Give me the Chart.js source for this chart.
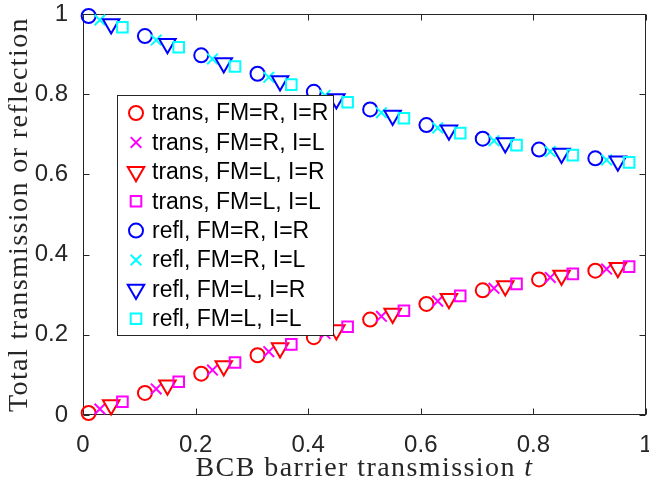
<!DOCTYPE html>
<html>
<head>
<meta charset="utf-8">
<script src="https://cdn.jsdelivr.net/npm/chart.js@4"></script>
<style>
  html, body { margin: 0; padding: 0; background: #fff; }
  #wrap { width: 649px; height: 487px; }
</style>
</head>
<body>
<div id="wrap"><canvas id="chart" width="649" height="487"></canvas></div>
<script>
// x positions of the four interleaved marker groups
const xA = [0.01, 0.11, 0.21, 0.31, 0.41, 0.51, 0.61, 0.71, 0.81, 0.91];
const xB = [0.03, 0.13, 0.23, 0.33, 0.43, 0.53, 0.63, 0.73, 0.83, 0.93];
const xC = [0.05, 0.15, 0.25, 0.35, 0.45, 0.55, 0.65, 0.75, 0.85, 0.95];
const xD = [0.07, 0.17, 0.27, 0.37, 0.47, 0.57, 0.67, 0.77, 0.87, 0.97];

// transmission
const transRR = [0.005, 0.055, 0.103, 0.149, 0.194, 0.238, 0.277, 0.311, 0.338, 0.360];
const transRL = [0.015, 0.065, 0.112, 0.158, 0.203, 0.246, 0.284, 0.316, 0.343, 0.364];
const transLR = [0.025, 0.074, 0.122, 0.167, 0.212, 0.253, 0.290, 0.322, 0.348, 0.367];
const transLL = [0.033, 0.083, 0.131, 0.176, 0.220, 0.260, 0.297, 0.327, 0.352, 0.370];

// reflection
const reflRR = [0.995, 0.945, 0.897, 0.851, 0.806, 0.762, 0.723, 0.689, 0.662, 0.640];
const reflRL = [0.985, 0.935, 0.888, 0.842, 0.797, 0.754, 0.716, 0.684, 0.657, 0.636];
const reflLR = [0.975, 0.926, 0.878, 0.833, 0.788, 0.747, 0.710, 0.678, 0.652, 0.633];
const reflLL = [0.967, 0.917, 0.869, 0.824, 0.780, 0.740, 0.703, 0.673, 0.648, 0.630];

const seriesLabels = [
    'trans, FM=R, I=R', 'trans, FM=R, I=L', 'trans, FM=L, I=R', 'trans, FM=L, I=L',
    'refl, FM=R, I=R', 'refl, FM=R, I=L', 'refl, FM=L, I=R', 'refl, FM=L, I=L'
];

const xTicks = [0, 0.2, 0.4, 0.6, 0.8, 1];
const xTickLabels = ['0', '0.2', '0.4', '0.6', '0.8', '1'];
const yTicks = [0, 0.2, 0.4, 0.6, 0.8, 1];
const yTickLabels = ['0', '0.2', '0.4', '0.6', '0.8', '1'];

const axisColor = '#262626';
const serif = '"Liberation Serif", "Times New Roman", serif';

// marker looks (MATLAB o, x, v, s)
const marker = {
    o: { pointStyle: 'circle', pointRadius: 7, pointRotation: 0 },
    x: { pointStyle: 'crossRot', pointRadius: 7.5, pointRotation: 0 },
    v: { pointStyle: 'triangle', pointRadius: 9.5, pointRotation: 180 },
    s: { pointStyle: 'rect', pointRadius: 7.5, pointRotation: 0 }
};

const pts = (xs, ys) => xs.map((x, i) => ({ x: x, y: ys[i] }));

const raw = [
    [xA, transRR, '#ff0000', 'o'],
    [xB, transRL, '#ff00ff', 'x'],
    [xC, transLR, '#ff0000', 'v'],
    [xD, transLL, '#ff00ff', 's'],
    [xA, reflRR, '#0000ff', 'o'],
    [xB, reflRL, '#00ffff', 'x'],
    [xC, reflLR, '#0000ff', 'v'],
    [xD, reflLL, '#00ffff', 's']
];

const datasets = raw.map((r, i) => Object.assign({
    label: seriesLabels[i],
    data: pts(r[0], r[1]),
    borderColor: r[2],
    pointBorderColor: r[2],
    backgroundColor: 'rgba(0,0,0,0)',
    pointBackgroundColor: 'rgba(0,0,0,0)',
    pointBorderWidth: 2,
    pointHoverRadius: 0,
    showLine: false,
    clip: false,
    order: raw.length - i   // later series on top, like MATLAB
}, marker[r[3]]));

// draw text stretched to a given width (the LaTeX font is wider than Times)
function spacedText(ctx, parts, cx, cy, targetW) {
    let w = 0, n = 0;
    parts.forEach(p => { ctx.font = p.font; w += ctx.measureText(p.text).width; n += p.text.length; });
    const sp = Math.max(0, (targetW - w) / n);
    ctx.letterSpacing = sp + 'px';
    let total = 0;
    parts.forEach(p => { ctx.font = p.font; total += ctx.measureText(p.text).width; });
    let x = cx - total / 2;
    parts.forEach(p => {
        ctx.font = p.font;
        ctx.fillText(p.text, x, cy);
        x += ctx.measureText(p.text).width;
    });
    ctx.letterSpacing = '0px';
}

// --- axes box with inward ticks ---
const axesBox = {
    id: 'axesBox',
    beforeDatasetsDraw(chart) {
        const { ctx, chartArea: a, scales } = chart;
        const L = Math.round(a.left) + 0.5, R = Math.round(a.right) - 0.5;
        const T = Math.round(a.top) + 0.5, B = Math.round(a.bottom) - 0.5;
        ctx.save();
        ctx.strokeStyle = axisColor;
        ctx.lineWidth = 1;
        ctx.strokeRect(L, T, R - L, B - T);
        ctx.beginPath();
        xTicks.forEach(v => {
            const p = Math.round(scales.x.getPixelForValue(v)) + 0.5;
            ctx.moveTo(p, B); ctx.lineTo(p, B - 6);
            ctx.moveTo(p, T); ctx.lineTo(p, T + 6);
        });
        yTicks.forEach(v => {
            const p = Math.round(scales.y.getPixelForValue(v)) + 0.5;
            ctx.moveTo(L, p); ctx.lineTo(L + 6, p);
            ctx.moveTo(R, p); ctx.lineTo(R - 6, p);
        });
        ctx.stroke();
        ctx.restore();
    }
};

// --- axis titles (x title has an italic t) ---
const axisTitles = {
    id: 'axisTitles',
    afterDraw(chart) {
        const { ctx, chartArea: a } = chart;
        ctx.save();
        ctx.fillStyle = axisColor;
        ctx.textBaseline = 'middle';
        ctx.textAlign = 'left';
        spacedText(ctx, [
            { text: 'BCB barrier transmission ', font: '28px ' + serif },
            { text: 't', font: 'italic 28px ' + serif }
        ], (a.left + a.right) / 2, 469, 338);

        ctx.translate(20, (a.top + a.bottom) / 2);
        ctx.rotate(-Math.PI / 2);
        spacedText(ctx, [
            { text: 'Total transmission or reflection', font: '28px ' + serif }
        ], 0, 0, 395);
        ctx.restore();
    }
};

// --- boxed legend inside the axes ---
const boxLegend = {
    id: 'boxLegend',
    afterDatasetsDraw(chart) {
        const ctx = chart.ctx;
        const box = { left: 117, top: 95, right: 333, bottom: 335 };
        ctx.save();
        ctx.fillStyle = '#ffffff';
        ctx.fillRect(box.left, box.top, box.right - box.left, box.bottom - box.top);
        ctx.strokeStyle = axisColor;
        ctx.lineWidth = 1;
        ctx.strokeRect(box.left + 0.5, box.top + 0.5, box.right - box.left, box.bottom - box.top);

        chart.data.datasets.forEach((ds, i) => {
            const cy = 113 + i * 29.4;
            ctx.strokeStyle = ds.pointBorderColor;
            ctx.fillStyle = 'rgba(0,0,0,0)';
            ctx.lineWidth = 2;
            Chart.helpers.drawPoint(ctx, {
                pointStyle: ds.pointStyle,
                rotation: ds.pointRotation,
                radius: ds.pointRadius,
                borderWidth: 2
            }, 136, cy);
            ctx.fillStyle = '#000000';
            ctx.font = '23px "Liberation Sans"';
            ctx.textBaseline = 'middle';
            ctx.textAlign = 'left';
            ctx.fillText(ds.label, 152, cy + 1);
        });
        ctx.restore();
    }
};

new Chart(document.getElementById('chart'), {
    type: 'scatter',
    data: { datasets: datasets },
    plugins: [axesBox, axisTitles, boxLegend],
    options: {
        responsive: false,
        animation: false,
        devicePixelRatio: 1,
        layout: { autoPadding: false, padding: { left: 0, top: 14, right: 3, bottom: 0 } },
        plugins: {
            legend: { display: false },
            tooltip: { enabled: false }
        },
        scales: {
            x: {
                type: 'linear',
                min: 0,
                max: 1,
                afterFit: s => { s.height = 72; s.paddingLeft = 0; s.paddingRight = 0; },
                afterBuildTicks: s => { s.ticks = xTicks.map(v => ({ value: v })); },
                grid: { display: false },
                border: { display: false },
                ticks: {
                    autoSkip: false,
                    maxRotation: 0,
                    padding: 8,
                    color: axisColor,
                    font: { family: 'Liberation Sans', size: 24 },
                    callback: (v, i) => xTickLabels[i]
                }
            },
            y: {
                type: 'linear',
                min: 0,
                max: 1,
                afterFit: s => { s.width = 83; s.paddingTop = 0; s.paddingBottom = 0; },
                afterBuildTicks: s => { s.ticks = yTicks.map(v => ({ value: v })); },
                grid: { display: false },
                border: { display: false },
                ticks: {
                    padding: 7,
                    color: axisColor,
                    font: { family: 'Liberation Sans', size: 24 },
                    callback: (v, i) => yTickLabels[i]
                }
            }
        }
    }
});
</script>
</body>
</html>
